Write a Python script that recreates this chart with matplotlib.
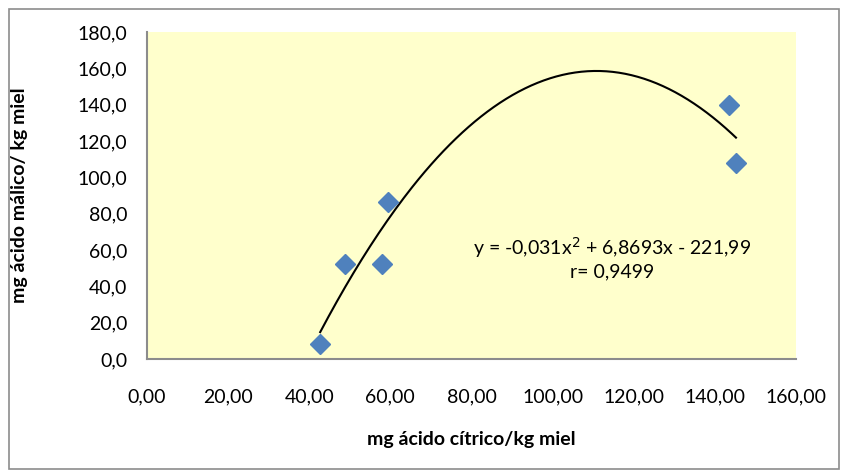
import matplotlib.pyplot as plt
import numpy as np
from matplotlib.patches import Rectangle
from matplotlib.ticker import FuncFormatter, MultipleLocator

# data
citrico = [42.7, 48.8, 57.9, 59.4, 143.5, 145.2]
malico = [8.3, 52.3, 52.3, 86.4, 139.8, 107.9]

# trendline shown on the chart: y = -0,031x^2 + 6,8693x - 221,99
coef = [-0.031, 6.8693, -221.99]
r_value = "0,9499"

FONT = ['Lato', 'DejaVu Sans']
plt.rcParams['font.family'] = FONT
FS = 14


def comma_fmt(decimals):
    return FuncFormatter(lambda v, pos: f"{v:.{decimals}f}".replace('.', ','))


fig = plt.figure(figsize=(8.41, 4.70), dpi=100)
ax = fig.add_axes([147 / 841, 111 / 470, 649 / 841, 327 / 470])
ax.set_facecolor('#ffffcc')

# trendline over the data range
xs = np.linspace(min(citrico), max(citrico), 200)
ax.plot(xs, np.polyval(coef, xs), color='black', linewidth=1.5, zorder=2)

ax.plot(citrico, malico, linestyle='none', marker='D', markersize=10,
        color='#4f81bd', markeredgecolor='#4f81bd', zorder=3)

ax.text(114.7, 55.8, "y = -0,031x$^2$ + 6,8693x - 221,99\nr= " + r_value,
        ha='center', va='center', fontsize=FS, linespacing=1.2)

ax.set_xlim(0, 160)
ax.set_ylim(0, 180)
ax.xaxis.set_major_locator(MultipleLocator(20))
ax.yaxis.set_major_locator(MultipleLocator(20))
ax.xaxis.set_major_formatter(comma_fmt(2))
ax.yaxis.set_major_formatter(comma_fmt(1))
ax.tick_params(length=0, labelsize=FS)
ax.tick_params(axis='y', pad=14)
ax.tick_params(axis='x', pad=21)

for side in ['top', 'right']:
    ax.spines[side].set_visible(False)
for side in ['left', 'bottom']:
    ax.spines[side].set_color('#8c8c8c')
    ax.spines[side].set_linewidth(1.5)

ax.set_xlabel("mg ácido cítrico/kg miel", fontsize=FS, fontweight='bold', va='center')
ax.set_ylabel("mg ácido málico/ kg miel", fontsize=FS, fontweight='bold', va='center')
ax.xaxis.set_label_coords(0.5, (359 - 439) / 327)
ax.yaxis.set_label_coords((20 - 147) / 649, 0.5)

# outer chart border
fig.patches.append(Rectangle((9 / 841, 1 / 470), 830 / 841, 460 / 470,
                             transform=fig.transFigure, fill=False,
                             edgecolor='#8c8c8c', linewidth=1.2))

fig.savefig('out.png', dpi=100)
